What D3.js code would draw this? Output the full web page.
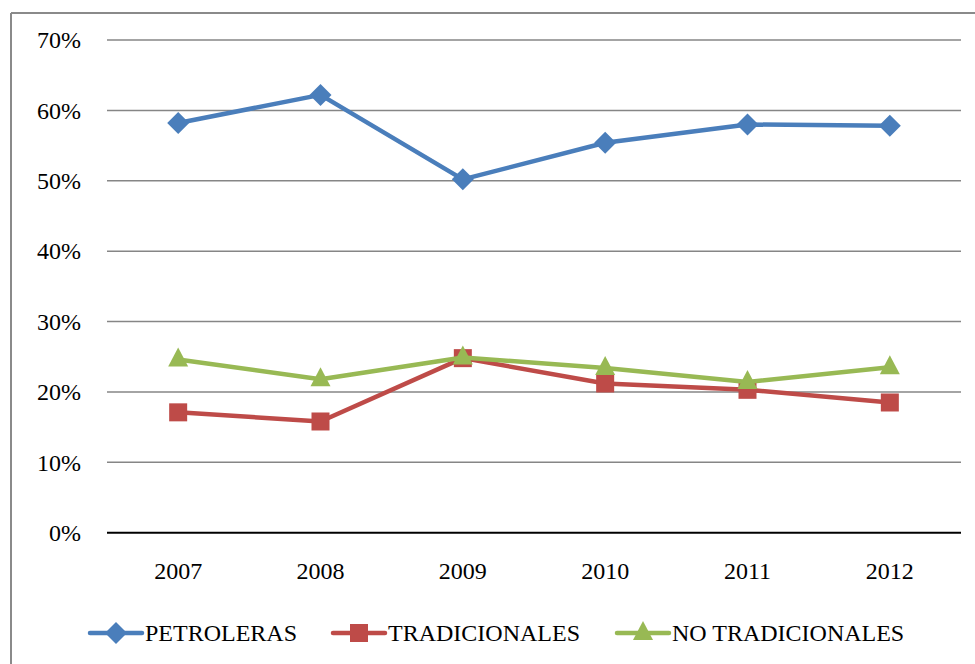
<!DOCTYPE html>
<html>
<head>
<meta charset="utf-8">
<script src="https://cdn.jsdelivr.net/npm/d3@7"></script>
<style>
html,body{margin:0;padding:0;background:#fff;}
svg{display:block;}
svg text{font-family:"Liberation Serif","Times New Roman",serif;font-size:24px;fill:#000;}
</style>
</head>
<body>
<svg id="chart" width="975" height="664"></svg>
<script>
const years = ["2007","2008","2009","2010","2011","2012"];
const petroleras = [0.582, 0.622, 0.502, 0.554, 0.580, 0.578];
const tradicionales = [0.171, 0.158, 0.248, 0.212, 0.203, 0.185];
const noTradicionales = [0.246, 0.218, 0.249, 0.234, 0.214, 0.235];
const yTicks = [0, 0.1, 0.2, 0.3, 0.4, 0.5, 0.6, 0.7];
const seriesNames = ["PETROLERAS", "TRADICIONALES", "NO TRADICIONALES"];
const seriesColors = ["#4a7ebb", "#be4b48", "#98b954"];
const seriesShapes = ["diamond", "square", "triangle"];
const seriesValues = [petroleras, tradicionales, noTradicionales];

(function () {
const svg = d3.select("#chart");
const mLeft = 107, mRight = 961, mTop = 40, mBottom = 532.7;

// outer frame (top and left edges visible)
svg.append("line").attr("x1", 11).attr("x2", 975).attr("y1", 13).attr("y2", 13)
  .attr("stroke", "#8a8a8a").attr("stroke-width", 2);
svg.append("line").attr("x1", 11).attr("x2", 11).attr("y1", 13).attr("y2", 664)
  .attr("stroke", "#8a8a8a").attr("stroke-width", 2);

const x = d3.scaleBand().domain(years).range([mLeft, mRight]);
const y = d3.scaleLinear().domain([0, 0.7]).range([mBottom, mTop]);

// gridlines
svg.append("g").selectAll("line").data(yTicks.filter(d => d > 0)).join("line")
  .attr("x1", mLeft).attr("x2", mRight)
  .attr("y1", d => y(d)).attr("y2", d => y(d))
  .attr("stroke", "#868686").attr("stroke-width", 1.5);

// y axis labels
const yAxis = d3.axisLeft(y).tickValues(yTicks).tickFormat(d3.format(".0%")).tickSize(0).tickPadding(26);
const gy = svg.append("g").attr("transform", `translate(${mLeft},0)`).call(yAxis);
gy.select(".domain").remove();

// x axis
const xAxis = d3.axisBottom(x).tickSize(0).tickPadding(29);
const gx = svg.append("g").attr("transform", `translate(0,${mBottom})`).call(xAxis);
gx.select(".domain").attr("stroke", "#000").attr("stroke-width", 2).attr("d", `M${mLeft},0H${mRight}`);

const cx = d => x(d) + x.bandwidth() / 2;
const line = d3.line().x((d, i) => cx(years[i])).y(d => y(d));

function marker(g, shape, color, px, py) {
  if (shape === "diamond") {
    g.append("path").attr("d", `M${px},${py-11}L${px+11},${py}L${px},${py+11}L${px-11},${py}Z`).attr("fill", color);
  } else if (shape === "square") {
    g.append("rect").attr("x", px-9).attr("y", py-9).attr("width", 18).attr("height", 18).attr("fill", color);
  } else {
    g.append("path").attr("d", `M${px},${py-12}L${px+10},${py+7}L${px-10},${py+7}Z`).attr("fill", color);
  }
}

seriesValues.forEach((vals, s) => {
  const g = svg.append("g");
  g.append("path").datum(vals).attr("d", line).attr("fill", "none")
    .attr("stroke", seriesColors[s]).attr("stroke-width", 4.5).attr("stroke-linejoin", "round");
  vals.forEach((v, i) => marker(g, seriesShapes[s], seriesColors[s], cx(years[i]), y(v)));
});

// legend
const legendX = [90, 333, 617];
const ly = 633;
seriesNames.forEach((name, s) => {
  const g = svg.append("g");
  const x0 = legendX[s];
  g.append("line").attr("x1", x0).attr("x2", x0 + 52).attr("y1", ly).attr("y2", ly)
    .attr("stroke", seriesColors[s]).attr("stroke-width", 4.5).attr("stroke-linecap", "round");
  marker(g, seriesShapes[s], seriesColors[s], x0 + 26, ly);
  g.append("text").attr("x", x0 + 55).attr("y", 641).text(name);
});
})();
</script>
</body>
</html>
